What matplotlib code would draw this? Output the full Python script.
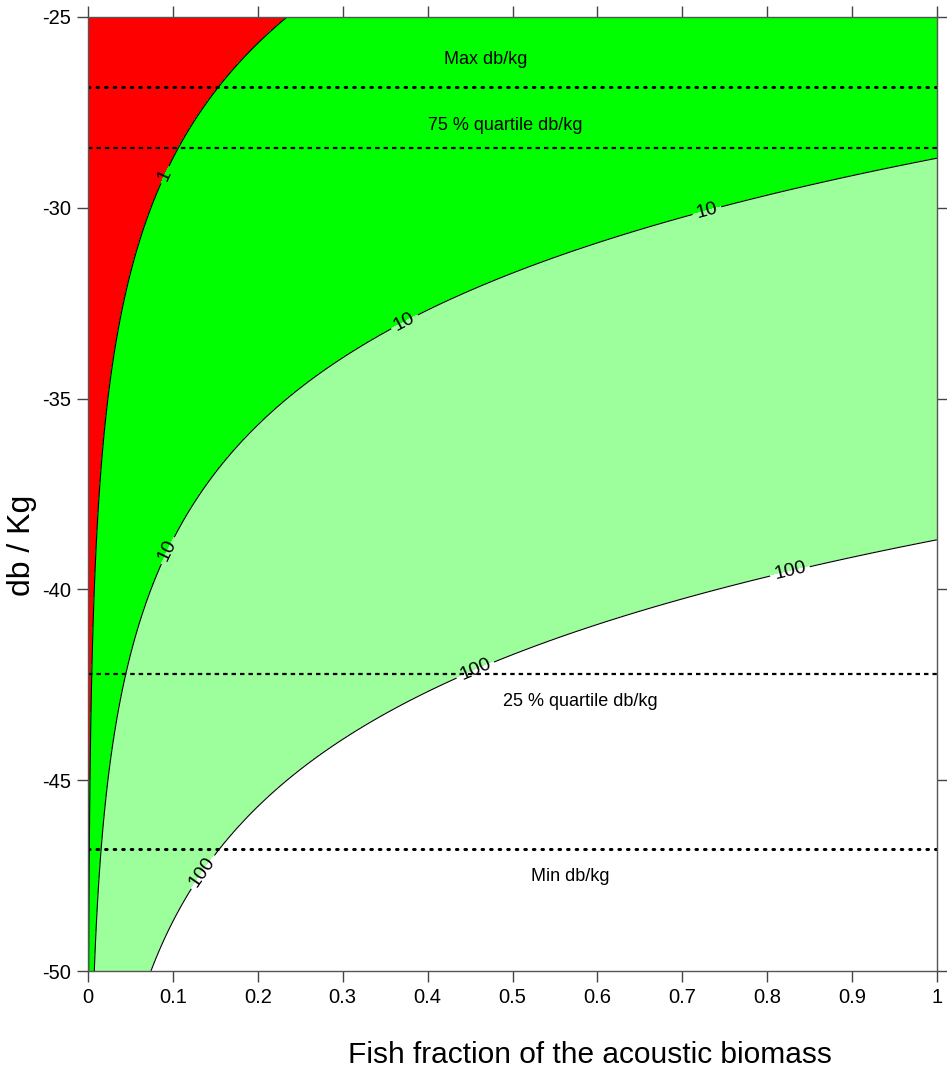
import matplotlib
matplotlib.use('Agg')
import matplotlib.pyplot as plt
import numpy as np

### Data ###
# contour levels and fill colours (value < 1, 1-10, 10-100, > 100)
levels = [1, 10, 100]
fill_colors = ['#ff0000', '#00ff00', '#9cff9c', '#ffffff']
# db/kg where the field equals 1 at fish fraction 1 (read from the 10 / 100 lines at x=1)
ref_db = -18.7

# reference lines (db/kg) and their captions
ref_names = ['Max db/kg', '75 % quartile db/kg', '25 % quartile db/kg', 'Min db/kg']
ref_values = [-26.83, -28.43, -42.22, -46.80]
ref_styles = ['dotted', 'dashed', 'dashed', 'dotted']
caption_x = [0.468, 0.491, 0.580, 0.568]
caption_y = [-26.12, -27.85, -42.95, -47.52]

# contour label positions (x, y)
label_pos = [(0.092, -29.15),
             (0.091, -38.95), (0.373, -33.0), (0.729, -30.08),
             (0.138, -47.45), (0.456, -42.1), (0.827, -39.55)]

x_ticks = [0, 0.1, 0.2, 0.3, 0.4, 0.5, 0.6, 0.7, 0.8, 0.9, 1]
x_tick_labels = ['0', '0.1', '0.2', '0.3', '0.4', '0.5', '0.6', '0.7', '0.8', '0.9', '1']
y_ticks = [-50, -45, -40, -35, -30, -25]

### Field ###
fx = np.linspace(0, 1, 1200)
fy = np.linspace(-50, -25, 800)
X, Y = np.meshgrid(fx, fy)
Z = X * 10 ** ((ref_db - Y) / 10.0)

### Plotting ###
plt.rcParams['font.family'] = ['Liberation Sans', 'DejaVu Sans']
plt.rcParams['axes.unicode_minus'] = False
fig = plt.figure(figsize=(9.47, 10.76), dpi=100)
ax = fig.add_axes([88 / 947, 1 - 971 / 1076, 849 / 947, 954 / 1076])

ax.contourf(X, Y, Z, levels=[-1] + levels + [1e12], colors=fill_colors)
cs = ax.contour(X, Y, Z, levels=levels, colors='black', linewidths=0.8)
ax.clabel(cs, fmt='%d', fontsize=14, inline=True, inline_spacing=4, manual=label_pos)

for val, style in zip(ref_values, ref_styles):
    if style == 'dotted':
        ax.axhline(val, color='black', lw=2.2, linestyle=(0, (0.5, 2.3)), dash_capstyle='round')
    else:
        ax.axhline(val, color='black', lw=1.6, linestyle=(0, (2.0, 1.8)))

for name, cx, cy in zip(ref_names, caption_x, caption_y):
    ax.text(cx, cy, name, ha='center', va='center', fontsize=13)

ax.set_xlim(0, 1)
ax.set_ylim(-50, -25)
ax.set_xticks(x_ticks)
ax.set_xticklabels(x_tick_labels)
ax.set_yticks(y_ticks)
ax.tick_params(axis='both', direction='out', length=8, width=1, color='#444444',
               labelsize=14.5, top=True, right=True, pad=4)
for s in ax.spines.values():
    s.set_color('#555555')
    s.set_linewidth(1)

fig.text(590 / 947, 1 - 1055 / 1076, 'Fish fraction of the acoustic biomass',
         ha='center', va='center', fontsize=21.5)
fig.text(22 / 947, 1 - 545 / 1076, 'db / Kg', ha='center', va='center',
         rotation=90, fontsize=23)

fig.savefig('out.png', dpi=100)
